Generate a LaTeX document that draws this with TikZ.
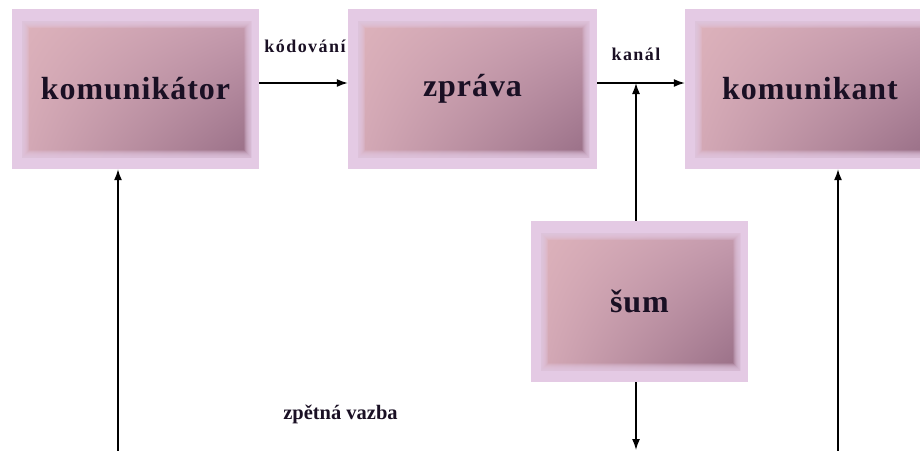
\documentclass[tikz,border=0pt]{standalone}
\usepackage{fontspec}
\setmainfont{Liberation Serif}
\newfontfamily\boxfont[LetterSpace=3]{Liberation Serif}
\newfontfamily\tagfont[LetterSpace=8]{Liberation Serif}
\usetikzlibrary{arrows.meta,shadings}
\definecolor{lav}{HTML}{E4CAE4}
\definecolor{pinkUL}{HTML}{DDB2BB}
\definecolor{pinkUR}{HTML}{C59BAE}
\definecolor{pinkLL}{HTML}{D4A9B6}
\definecolor{pinkLR}{HTML}{986E86}
\definecolor{ink}{HTML}{1A1024}
\tikzset{
  stagebox/.style={
    rectangle, fill=lav, draw=none, inner sep=0pt,
    minimum width=#1, minimum height=160pt,
    font=\boxfont\bfseries\fontsize{32}{36}\selectfont, text=ink,
    path picture={
      % gradient panel inside the lavender frame
      \coordinate (pa) at ([xshift=10pt,yshift=-12pt]path picture bounding box.north west);
      \coordinate (pb) at ([xshift=-8pt,yshift=12pt]path picture bounding box.south east);
      \begin{scope}
        \clip (pa) rectangle (pb);
        \shade[upper left=pinkUL, upper right=pinkUR, lower left=pinkLL, lower right=pinkLR]
          (pa) rectangle (pb);
      \end{scope}
      % feathered rim: stacked translucent strokes on the panel edge
      \foreach \w in {1,2,...,14}{
        \draw[lav, line width=\w pt, opacity=0.13] (pa) rectangle (pb);
      }
    }
  },
  flow/.style={line width=1.4pt, -{Latex[length=11pt,width=8pt]}},
  tag/.style={font=\tagfont\bfseries\fontsize{18}{20}\selectfont, text=ink, inner sep=0pt},
}
\begin{document}
\begin{tikzpicture}[x=1pt,y=-1pt]
\clip (0,0) rectangle (920,450);
\fill[white] (0,0) rectangle (920,450);

% boxes
\node[stagebox=247pt] (kom) at (135.5,89) {komunikátor};
\node[stagebox=249pt] (zpr) at (472.5,89) {zpráva};
\node[stagebox=250pt] (kmt) at (810,89) {komunikant};
\node[stagebox=217pt, minimum height=161pt] (sum) at (639.5,301.5) {šum};

% helper points
\coordinate (ch) at (636,83);
\coordinate (nb) at (636,450);
\coordinate (fl) at (118,455);
\coordinate (fr) at (838,455);

% main chain
\draw[flow] ([yshift=6pt]kom.east) -- ([yshift=6pt]zpr.west);
\draw[flow] ([yshift=6pt]zpr.east) -- ([yshift=6pt]kmt.west);

% noise
\draw[flow] (sum.north -| ch) -- (ch);
\draw[flow] (sum.south -| nb) -- (nb);

% feedback
\draw[flow] (fl) -- (kom.south -| fl);
\draw[flow] (fr) -- (kmt.south -| fr);

% labels
\node[tag] (lk) at (305,46) {kódování};
\node[tag] (lc) at (636,54) {kanál};
\node[font=\bfseries\fontsize{20.5}{23}\selectfont, text=ink, inner sep=0pt] (lz) at (340.5,414) {zpětná vazba};
\end{tikzpicture}
\end{document}
